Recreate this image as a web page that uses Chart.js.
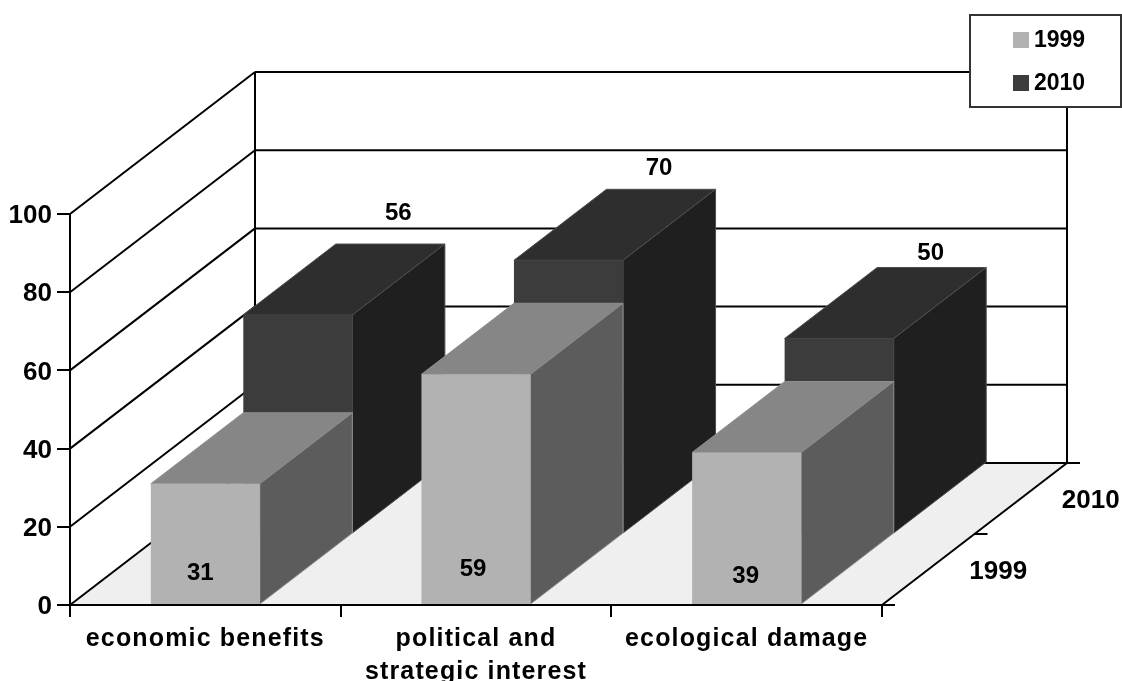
<!DOCTYPE html>
<html>
<head>
<meta charset="utf-8">
<title>1999 vs 2010</title>
<script src="https://cdn.jsdelivr.net/npm/chart.js@4"></script>
<style>
  html, body { margin: 0; padding: 0; background: #fff; }
  canvas { display: block; }
</style>
</head>
<body>
<canvas id="grafico" width="1122" height="681"></canvas>
<script>
// Datos
const categories = ["economic benefits", ["political and", "strategic interest"], "ecological damage"];
const seriesNames = ["1999", "2010"];
const values1999 = [31, 59, 39];
const values2010 = [56, 70, 50];
const yTicks = [0, 20, 40, 60, 80, 100];

// Colores de cada serie: frente, tapa, lateral
const colors1999 = { front: "#b2b2b2", top: "#868686", side: "#5c5c5c", edge: "#8f8f8f" };
const colors2010 = { front: "#3c3c3c", top: "#2e2e2e", side: "#1f1f1f", edge: "#4d4d4d" };

// Profundidad de cada fila en pixeles
const DEPTH_X = 92.5;
const DEPTH_Y = -71;
const FONT = "'Liberation Sans', Arial, sans-serif";

// Ajuste fino de las etiquetas de cada barra
const labelShift = [
  [[-5, -31], [-3, -35], [-1, -28]],
  [[8, -31], [-2, -21], [-1, -14]],
];

function poly(ctx, pts, fill, edge) {
  ctx.beginPath();
  pts.forEach((p, i) => (i ? ctx.lineTo(p[0], p[1]) : ctx.moveTo(p[0], p[1])));
  ctx.closePath();
  ctx.fillStyle = fill;
  ctx.fill();
  if (edge) {
    ctx.strokeStyle = edge;
    ctx.lineWidth = 1;
    ctx.stroke();
  }
}

function line(ctx, x1, y1, x2, y2) {
  ctx.beginPath();
  ctx.moveTo(x1, y1);
  ctx.lineTo(x2, y2);
  ctx.stroke();
}

// Paredes, piso y eje de profundidad
const wallsPlugin = {
  id: "walls",
  beforeDraw(chart) {
    const { ctx, chartArea: a, scales } = chart;
    const backX = DEPTH_X * seriesNames.length;
    const backY = DEPTH_Y * seriesNames.length;
    ctx.save();
    poly(ctx, [[a.left, a.bottom], [a.left + backX, a.bottom + backY], [a.right + backX, a.bottom + backY], [a.right, a.bottom]], "#efefef");
    ctx.strokeStyle = "#000";
    ctx.lineWidth = 2;
    scales.y.ticks.forEach((t) => {
      const y = scales.y.getPixelForValue(t.value);
      line(ctx, a.left, y, a.left + backX, y + backY);
      line(ctx, a.left + backX, y + backY, a.right + backX, y + backY);
    });
    line(ctx, a.left + backX, a.top + backY, a.left + backX, a.bottom + backY);
    line(ctx, a.right + backX, a.top + backY, a.right + backX, a.bottom + backY);
    line(ctx, a.right, a.bottom, a.right + backX, a.bottom + backY);
    // marcas del eje de profundidad
    for (let i = 0; i <= seriesNames.length; i++) {
      const x = a.right + DEPTH_X * i;
      const y = a.bottom + DEPTH_Y * i;
      line(ctx, x, y, x + 13, y);
    }
    ctx.fillStyle = "#000";
    ctx.font = "bold 26px " + FONT;
    ctx.textAlign = "center";
    ctx.textBaseline = "middle";
    seriesNames.forEach((name, i) => {
      ctx.fillText(name, a.right + DEPTH_X * (i + 0.5) + 70, a.bottom + DEPTH_Y * (i + 0.5) + 2);
    });
    ctx.restore();
  },
};

// Cada serie se corre hacia el fondo y se le agrega tapa y lateral
const barsPlugin = {
  id: "bars3d",
  beforeDatasetDraw(chart, args) {
    const { ctx } = chart;
    const c = chart.data.datasets[args.index].faces;
    ctx.save();
    ctx.translate(DEPTH_X * args.index, DEPTH_Y * args.index);
    args.meta.data.forEach((bar) => {
      const { x, y, base, width } = bar.getProps(["x", "y", "base", "width"], true);
      const x1 = x - width / 2;
      const x2 = x + width / 2;
      poly(ctx, [[x1, y], [x1 + DEPTH_X, y + DEPTH_Y], [x2 + DEPTH_X, y + DEPTH_Y], [x2, y]], c.top, c.edge);
      poly(ctx, [[x2, y], [x2 + DEPTH_X, y + DEPTH_Y], [x2 + DEPTH_X, base + DEPTH_Y], [x2, base]], c.side, c.edge);
    });
  },
  afterDatasetDraw(chart) {
    chart.ctx.restore();
  },
  afterDatasetsDraw(chart) {
    const { ctx } = chart;
    ctx.save();
    ctx.fillStyle = "#000";
    ctx.font = "bold 24px " + FONT;
    ctx.textAlign = "center";
    ctx.textBaseline = "middle";
    chart.data.datasets.forEach((ds, i) => {
      chart.getDatasetMeta(i).data.forEach((bar, j) => {
        const [dx, dy] = labelShift[i][j];
        const refY = i === 0 ? bar.base : bar.y + DEPTH_Y * 2;
        const refX = bar.x + DEPTH_X * (i === 0 ? 0 : 2);
        ctx.fillText(ds.data[j], refX + dx, refY + dy);
      });
    });
    drawLegend(chart);
    ctx.restore();
    // las etiquetas del eje x van con letras separadas
    ctx.letterSpacing = "1.15px";
  },
  afterDraw(chart) {
    chart.ctx.letterSpacing = "0px";
  },
};

function drawLegend(chart) {
  const { ctx } = chart;
  ctx.fillStyle = "#fff";
  ctx.fillRect(970, 15, 151, 92);
  ctx.strokeStyle = "#333";
  ctx.lineWidth = 2;
  ctx.strokeRect(970, 15, 151, 92);
  ctx.font = "bold 23px " + FONT;
  ctx.textAlign = "left";
  chart.data.datasets.forEach((ds, i) => {
    const y = 40 + i * 43;
    ctx.fillStyle = ds.backgroundColor;
    ctx.fillRect(1013, y - 8, 16, 16);
    ctx.fillStyle = "#000";
    ctx.fillText(ds.label, 1034, y + 1);
  });
}

new Chart(document.getElementById("grafico").getContext("2d"), {
  type: "bar",
  data: {
    labels: categories,
    datasets: [
      { label: seriesNames[0], data: values1999, backgroundColor: colors1999.front, faces: colors1999 },
      { label: seriesNames[1], data: values2010, backgroundColor: colors2010.front, faces: colors2010 },
    ],
  },
  options: {
    responsive: false,
    animation: false,
    clip: false,
    grouped: false,
    categoryPercentage: 1,
    barPercentage: 0.403,
    layout: { autoPadding: false, padding: { top: 214, right: 240, left: 0, bottom: 0 } },
    plugins: { legend: { display: false }, tooltip: { enabled: false } },
    scales: {
      x: {
        afterFit: (s) => { s.height = 76; },
        grid: { offset: true, drawOnChartArea: false, color: "#000", lineWidth: 2, tickLength: 12 },
        border: { color: "#000", width: 2, z: 1 },
        ticks: { z: 1, color: "#000", padding: 6, maxRotation: 0, autoSkip: false, font: { family: FONT, size: 25, weight: "bold", lineHeight: 1.3 } },
      },
      y: {
        min: 0,
        max: 100,
        afterFit: (s) => { s.width = 70; },
        afterBuildTicks: (s) => { s.ticks = yTicks.map((value) => ({ value })); },
        grid: { drawOnChartArea: false, color: "#000", lineWidth: 2, tickLength: 13 },
        border: { color: "#000", width: 2, z: 1 },
        ticks: { z: -1, color: "#000", padding: 5, labelOffset: 2, font: { family: FONT, size: 26, weight: "bold" } },
      },
    },
  },
  plugins: [wallsPlugin, barsPlugin],
});
</script>
</body>
</html>
